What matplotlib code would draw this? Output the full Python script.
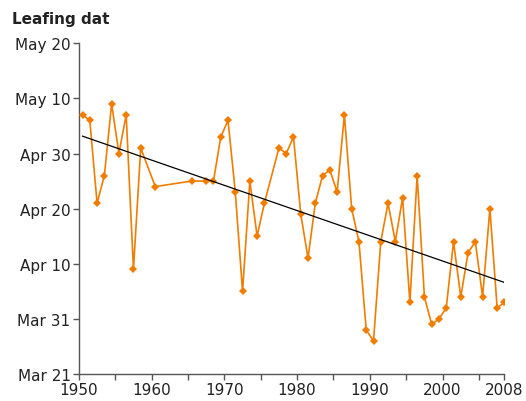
import numpy as np
import matplotlib.pyplot as plt

# leafing dates, day of year (Mar 21 = 80)
godine = [1950, 1951, 1952, 1953, 1954, 1955, 1956, 1957, 1958, 1960,
          1965, 1967, 1968, 1969, 1970, 1971, 1972, 1973, 1974, 1975,
          1977, 1978, 1979, 1980, 1981, 1982, 1983, 1984, 1985, 1986,
          1987, 1988, 1989, 1990, 1991, 1992, 1993, 1994, 1995, 1996,
          1997, 1998, 1999, 2000, 2001, 2002, 2003, 2004, 2005, 2006,
          2007, 2008]
dani = [127, 126, 111, 116, 129, 120, 127, 99, 121, 114,
        115, 115, 115, 123, 126, 113, 95, 115, 105, 111,
        121, 120, 123, 109, 101, 111, 116, 117, 113, 127,
        110, 104, 88, 86, 104, 111, 104, 112, 93, 116,
        94, 89, 90, 92, 104, 94, 102, 104, 94, 110,
        92, 93]

y_tickovi = [80, 90, 100, 110, 120, 130, 140]
y_oznake = ["Mar 21", "Mar 31", "Apr 10", "Apr 20", "Apr 30", "May 10", "May 20"]
x_tickovi = [1950, 1955, 1960, 1965, 1970, 1975, 1980, 1985, 1990, 1995, 2000, 2005, 2008.5]
x_oznake = ["1950", "", "1960", "", "1970", "", "1980", "", "1990", "", "2000", "", "2008"]

Narancasta = "#F07D00"

# points sit at mid-year on a date axis
x = np.array(godine, float) + 0.5
y = np.array(dani, float)

fig = plt.figure(figsize=(5.26, 4.02), dpi=100)
ax = fig.add_axes([0.150, 0.067, 0.809, 0.823])

ax.plot(x, y, color=Narancasta, linewidth=1.2, marker="D", markersize=4.5,
        markeredgewidth=0, zorder=3)

k, n = np.polyfit(x, y, 1)
ax.plot([x[0], x[-1]], [k * x[0] + n, k * x[-1] + n], color="black", linewidth=0.9, zorder=4)

ax.set_xlim(1950, 2008.5)
ax.set_ylim(80, 140)
ax.set_xticks(x_tickovi)
ax.set_xticklabels(x_oznake)
ax.set_yticks(y_tickovi)
ax.set_yticklabels(y_oznake)

for s in ["top", "right"]:
    ax.spines[s].set_visible(False)
for s in ["left", "bottom"]:
    ax.spines[s].set_color("#555555")
    ax.spines[s].set_linewidth(1.0)
ax.tick_params(axis="both", colors="#555555", labelcolor="#222222", labelsize=11,
               length=4, width=1.0, direction="out", pad=2)

fig.text(0.023, 0.94, "Leafing dat", fontsize=11, fontweight="bold", color="#222222")

fig.savefig("out.png", dpi=100)
